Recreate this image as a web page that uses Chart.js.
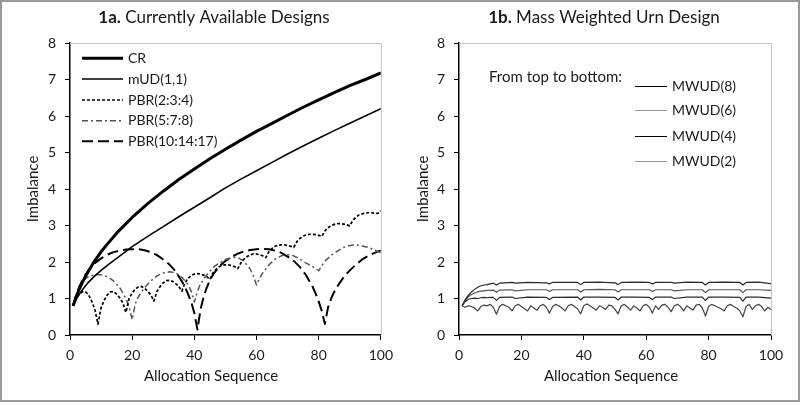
<!DOCTYPE html>
<html>
<head>
<meta charset="utf-8">
<script src="https://cdn.jsdelivr.net/npm/chart.js@4.4.1/dist/chart.umd.min.js"></script>
<style>
  html, body { margin: 0; padding: 0; background: #fff; }
  #wrap { position: relative; width: 800px; height: 405px; overflow: hidden; }
  #frame { position: absolute; left: 0; top: 0; width: 800px; height: 402px; box-sizing: border-box; border: 2px solid #9a9a9a; pointer-events: none; }
  canvas { position: absolute; top: 0; }
</style>
</head>
<body>
<div id="wrap">
  <canvas id="chartA" width="400" height="405" style="left:0"></canvas>
  <canvas id="chartB" width="400" height="405" style="left:400px"></canvas>
  <div id="frame"></div>
</div>
<script>
const FONT = 'Lato, "Open Sans", sans-serif';

// --- panel 1a: [allocation, imbalance] ---
const crPoints = [[1,0.8],[2,1.05],[3,1.26],[4,1.44],[5,1.61],[6,1.76],[8,2.04],[10,2.28],[12,2.49],[15,2.79],
  [20,3.22],[25,3.6],[30,3.94],[35,4.26],[40,4.55],[45,4.83],[50,5.09],[55,5.34],[60,5.58],[65,5.8],
  [70,6.02],[75,6.24],[80,6.44],[85,6.64],[90,6.83],[95,7.0],[100,7.18]];

const mudPoints = [[1,0.8],[2,0.98],[3,1.12],[4,1.24],[5,1.35],[6,1.45],[8,1.62],[10,1.77],[12,1.91],[15,2.1],
  [20,2.42],[25,2.7],[30,2.97],[35,3.24],[40,3.5],[45,3.76],[50,4.03],[55,4.27],[60,4.5],[65,4.73],
  [70,4.96],[75,5.18],[80,5.39],[85,5.6],[90,5.8],[95,6.0],[100,6.2]];

// PBR(2:3:4), one value per allocation 1..100
const pbr234 = [
  0.80,1.00,1.12,1.18,1.18,1.10,0.92,0.70,0.30,
  0.75,0.95,1.10,1.18,1.19,1.12,1.02,0.88,0.62,
  1.00,1.15,1.26,1.32,1.33,1.28,1.20,1.10,0.93,
  1.20,1.33,1.43,1.49,1.50,1.47,1.41,1.33,1.20,
  1.43,1.55,1.63,1.67,1.68,1.67,1.64,1.60,1.52,
  1.70,1.80,1.87,1.91,1.92,1.92,1.90,1.87,1.82,
  1.98,2.08,2.15,2.20,2.22,2.22,2.20,2.17,2.12,
  2.28,2.37,2.43,2.46,2.47,2.47,2.45,2.43,2.40,
  2.56,2.65,2.71,2.74,2.76,2.76,2.75,2.73,2.70,
  2.85,2.94,3.00,3.03,3.05,3.05,3.04,3.02,2.99,
  3.14,3.23,3.29,3.32,3.34,3.35,3.35,3.34,3.33,
  3.40];

const pbr578Points = [[1,0.8],[2,1.1],[3,1.3],[4,1.45],[5,1.55],[6,1.6],[8,1.65],[10,1.65],[12,1.6],[14,1.48],
  [16,1.3],[18,1.0],[19,0.78],[20,0.42],[21,0.85],[22,1.05],[24,1.3],[26,1.48],[28,1.62],[30,1.7],
  [32,1.73],[34,1.7],[36,1.58],[38,1.38],[39,1.2],[40,0.9],[41,1.2],[42,1.4],[44,1.65],[46,1.85],
  [48,1.97],[50,2.07],[52,2.12],[54,2.12],[56,2.02],[58,1.8],[59,1.62],[60,1.37],[61,1.55],[62,1.7],
  [64,1.92],[66,2.08],[68,2.17],[70,2.2],[72,2.17],[74,2.08],[76,1.97],[78,1.88],[79,1.82],[80,1.76],
  [81,1.9],[82,2.02],[84,2.18],[86,2.3],[88,2.4],[90,2.45],[92,2.47],[94,2.44],[96,2.4],[98,2.33],[100,2.25]];

const pbr101417Points = [[1,0.8],[2,1.1],[3,1.33],[4,1.5],[5,1.65],[6,1.78],[8,1.97],[10,2.1],[12,2.2],[14,2.27],
  [16,2.31],[18,2.34],[20,2.35],[22,2.35],[24,2.32],[26,2.27],[28,2.19],[30,2.07],[32,1.93],[34,1.74],
  [36,1.47],[37,1.31],[38,1.12],[39,0.9],[40,0.6],[41,0.15],[42,0.7],[43,1.05],[44,1.3],[45,1.5],
  [46,1.65],[48,1.88],[50,2.03],[52,2.14],[54,2.23],[56,2.29],[58,2.33],[60,2.35],[62,2.36],[64,2.35],
  [66,2.31],[68,2.25],[70,2.15],[72,2.03],[74,1.86],[76,1.63],[78,1.33],[79,1.14],[80,0.92],[81,0.66],
  [82,0.3],[83,0.75],[84,1.0],[85,1.18],[86,1.33],[88,1.58],[90,1.77],[92,1.93],[94,2.07],[96,2.17],
  [98,2.25],[100,2.32]];

// --- panel 1b ---
const mwudX = [1,2,3,4,5,6,7,8,9,10,11,12,13,17,18,22,28,29,30,38,39,40,45,50,51,52,56,61,62,63,68,69,73,78,79,80,85,90,91,92,96,100];
const mwud8 = [0.80,0.97,1.09,1.18,1.25,1.31,1.35,1.37,1.38,1.40,1.42,1.37,1.42,1.44,1.42,1.44,1.43,1.40,1.44,1.44,1.38,1.44,1.45,1.43,1.38,1.44,1.45,1.44,1.40,1.44,1.44,1.42,1.45,1.44,1.37,1.44,1.45,1.44,1.37,1.44,1.45,1.41];
const mwud6 = [0.80,0.95,1.05,1.11,1.15,1.18,1.20,1.21,1.22,1.22,1.23,1.17,1.23,1.24,1.21,1.24,1.24,1.19,1.24,1.24,1.18,1.24,1.25,1.24,1.18,1.24,1.24,1.24,1.19,1.24,1.24,1.21,1.24,1.24,1.16,1.24,1.24,1.24,1.16,1.24,1.24,1.22];
const mwud4 = [0.80,0.92,0.98,1.00,1.01,1.00,1.02,1.03,1.02,1.03,1.03,0.95,1.03,1.04,1.00,1.04,1.03,0.97,1.03,1.04,0.96,1.04,1.04,1.03,0.96,1.04,1.04,1.03,0.97,1.04,1.04,1.00,1.04,1.04,0.94,1.04,1.04,1.03,0.93,1.04,1.04,1.01];
// MWUD(2), one value per allocation 1..100
const mwud2 = [
  0.80,0.76,0.80,0.78,0.74,0.66,0.78,0.82,0.80,0.84,
  0.76,0.57,0.78,0.84,0.80,0.76,0.66,0.80,0.84,0.78,
  0.72,0.66,0.80,0.74,0.68,0.80,0.84,0.76,0.60,0.78,
  0.84,0.80,0.74,0.66,0.80,0.84,0.78,0.72,0.58,0.80,
  0.85,0.80,0.74,0.68,0.80,0.76,0.70,0.82,0.80,0.70,
  0.58,0.80,0.84,0.76,0.68,0.80,0.74,0.66,0.80,0.84,
  0.76,0.60,0.80,0.70,0.82,0.84,0.76,0.64,0.80,0.84,
  0.78,0.66,0.80,0.74,0.68,0.82,0.84,0.74,0.52,0.78,
  0.84,0.80,0.76,0.72,0.66,0.80,0.84,0.78,0.74,0.66,
  0.50,0.78,0.84,0.70,0.80,0.84,0.78,0.66,0.76,0.70];

const toXY = pairs => pairs.map(([x, y]) => ({ x, y }));
const seqXY = vals => vals.map((y, i) => ({ x: i + 1, y }));
const zipXY = (xs, ys) => xs.map((x, i) => ({ x, y: ys[i] }));

function drawMixedText(ctx, parts, cx, cy, size) {
    let total = 0;
    parts.forEach(p => {
        ctx.font = `${p.bold ? 'bold ' : ''}${size}px ${FONT}`;
        p.w = ctx.measureText(p.text).width;
        total += p.w;
    });
    let x = cx - total / 2;
    ctx.textBaseline = 'middle';
    ctx.textAlign = 'left';
    parts.forEach(p => {
        ctx.font = `${p.bold ? 'bold ' : ''}${size}px ${FONT}`;
        ctx.fillText(p.text, x, cy);
        x += p.w;
    });
}

// plot-area frame, titles and the in-plot legend
const decor = {
    id: 'decor',
    beforeDatasetsDraw(chart) {
        const { ctx, chartArea: a } = chart;
        ctx.save();
        ctx.strokeStyle = '#c4c4c4';
        ctx.lineWidth = 1;
        ctx.beginPath();
        ctx.moveTo(a.left, a.top + 0.5);
        ctx.lineTo(a.right + 0.5, a.top + 0.5);
        ctx.lineTo(a.right + 0.5, a.bottom);
        ctx.stroke();
        ctx.restore();
    },
    afterDraw(chart, args, o) {
        const { ctx } = chart;
        ctx.save();
        ctx.fillStyle = '#1a1a1a';
        drawMixedText(ctx, o.title, o.titleX, 18, 17);

        ctx.font = `15px ${FONT}`;
        ctx.textAlign = 'center';
        ctx.textBaseline = 'middle';
        ctx.fillText('Allocation Sequence', o.xTitleX, 376);
        ctx.save();
        ctx.translate(o.yTitleX, 189);
        ctx.rotate(-Math.PI / 2);
        ctx.fillText('Imbalance', 0, 0);
        ctx.restore();

        ctx.textAlign = 'left';
        if (o.note) {
            ctx.font = `15px ${FONT}`;
            ctx.fillText(o.note.text, o.note.x, o.note.y);
        }
        ctx.font = `${o.legendSize}px ${FONT}`;
        chart.data.datasets.forEach((ds, i) => {
            const y = o.legendRows[i];
            const w = o.legendWidth || ds.borderWidth;
            const ly = w <= 1 ? Math.round(y) + 0.5 : y;
            ctx.save();
            ctx.strokeStyle = ds.legendColor || ds.borderColor;
            ctx.lineWidth = w;
            ctx.setLineDash(ds.borderDash || []);
            ctx.beginPath();
            ctx.moveTo(o.legendX0, ly);
            ctx.lineTo(o.legendX1, ly);
            ctx.stroke();
            ctx.restore();
            ctx.fillText(ds.label, o.legendX1 + 5, y);
        });
        ctx.restore();
    }
};

function baseOptions(yWidth, padRight, decorOpts) {
    const tickFont = { family: FONT, size: 14 };
    return {
        responsive: false,
        animation: false,
        layout: { padding: { left: 0, top: 43, right: padRight, bottom: 0 }, autoPadding: false },
        elements: { point: { radius: 0 }, line: { tension: 0, borderJoinStyle: 'round', fill: false } },
        plugins: { legend: { display: false }, tooltip: { enabled: false }, decor: decorOpts },
        scales: {
            x: {
                type: 'linear', min: 0, max: 100,
                ticks: { stepSize: 20, padding: 7, color: '#1a1a1a', font: tickFont, maxRotation: 0 },
                grid: { drawOnChartArea: false, drawTicks: true, tickLength: 5, color: '#000' },
                border: { color: '#000', width: 1.5 },
                afterFit: s => { s.height = 70; }
            },
            y: {
                min: 0, max: 8,
                ticks: { stepSize: 1, padding: 9, color: '#1a1a1a', font: tickFont },
                grid: { drawOnChartArea: false, drawTicks: true, tickLength: 5, color: '#000' },
                border: { color: '#000', width: 1.5 },
                afterFit: s => { s.width = yWidth; }
            }
        }
    };
}

new Chart(document.getElementById('chartA'), {
    type: 'line',
    data: {
        datasets: [
            { label: 'CR', data: toXY(crPoints), borderColor: '#000', borderWidth: 3 },
            { label: 'mUD(1,1)', data: toXY(mudPoints), borderColor: '#000', borderWidth: 1.6 },
            { label: 'PBR(2:3:4)', data: seqXY(pbr234), borderColor: '#000', borderWidth: 1.7, borderDash: [3, 2] },
            { label: 'PBR(5:7:8)', data: toXY(pbr578Points), borderColor: '#555', borderWidth: 1.5, borderDash: [6, 3, 2, 3] },
            { label: 'PBR(10:14:17)', data: toXY(pbr101417Points), borderColor: '#000', borderWidth: 2, borderDash: [11, 5] }
        ]
    },
    options: baseOptions(70, 19, {
        title: [{ text: '1a.', bold: true }, { text: ' Currently Available Designs' }],
        titleX: 214, xTitleX: 211, yTitleX: 33,
        legendRows: [58.3, 79, 100, 120.7, 141.3], legendX0: 82, legendX1: 123, legendSize: 14
    }),
    plugins: [decor]
});

new Chart(document.getElementById('chartB'), {
    type: 'line',
    data: {
        datasets: [
            { label: 'MWUD(8)', data: zipXY(mwudX, mwud8), borderColor: '#2a2a2a', legendColor: '#000', borderWidth: 1.2 },
            { label: 'MWUD(6)', data: zipXY(mwudX, mwud6), borderColor: '#555', legendColor: '#999', borderWidth: 1.2 },
            { label: 'MWUD(4)', data: zipXY(mwudX, mwud4), borderColor: '#2a2a2a', legendColor: '#000', borderWidth: 1.2 },
            { label: 'MWUD(2)', data: seqXY(mwud2), borderColor: '#444', legendColor: '#999', borderWidth: 1.2 }
        ]
    },
    options: baseOptions(59, 29, {
        title: [{ text: '1b.', bold: true }, { text: ' Mass Weighted Urn Design' }],
        titleX: 204, xTitleX: 211, yTitleX: 23,
        note: { text: 'From top to bottom:', x: 89, y: 77 },
        legendRows: [86, 110, 136, 161], legendX0: 235, legendX1: 267, legendSize: 14, legendWidth: 1
    }),
    plugins: [decor]
});
</script>
</body>
</html>
